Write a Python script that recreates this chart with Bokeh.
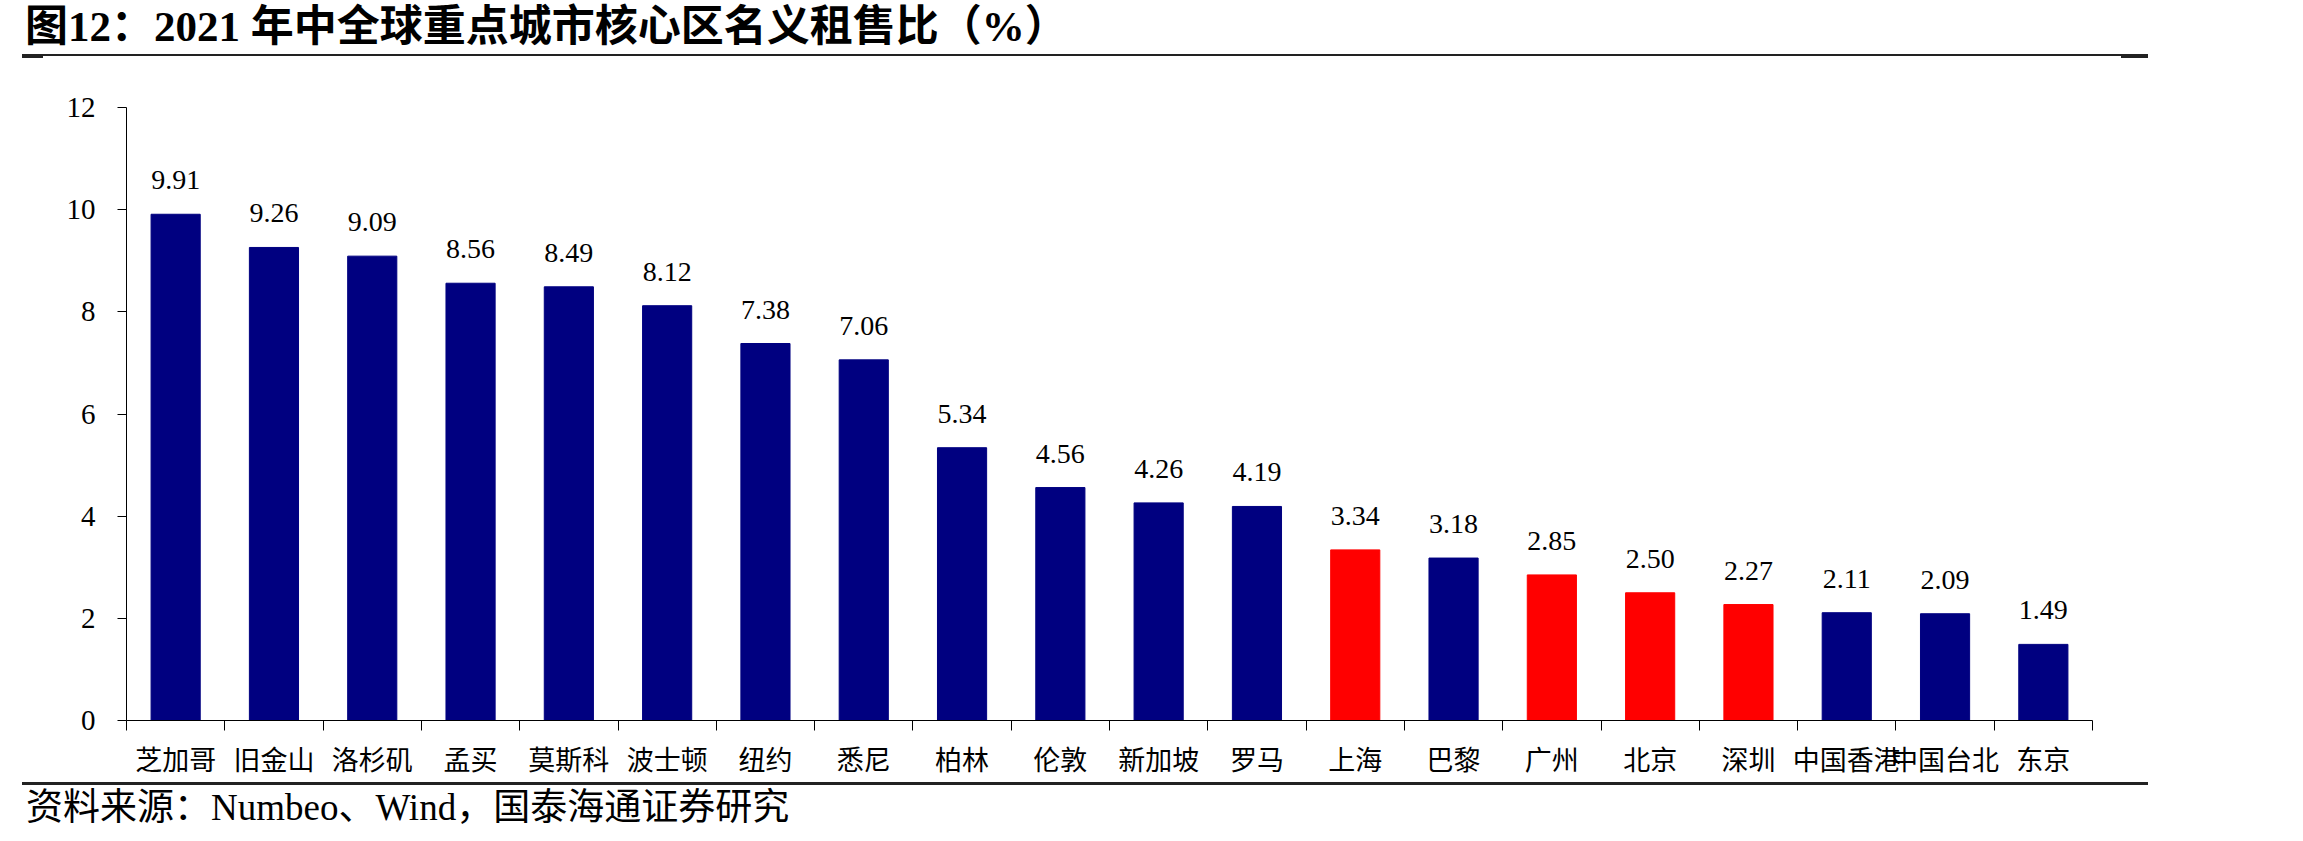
from bokeh.plotting import figure
from bokeh.models import Range1d, FixedTicker, ColumnDataSource, Div
from bokeh.layouts import column
from bokeh.core.properties import value
from bokeh.embed import file_html
from bokeh.resources import INLINE

# Nominal rent-to-price ratio in core districts, mid-2021 (%)
cities = ["芝加哥", "旧金山", "洛杉矶", "孟买", "莫斯科", "波士顿", "纽约", "悉尼",
          "柏林", "伦敦", "新加坡", "罗马", "上海", "巴黎", "广州", "北京", "深圳",
          "中国香港", "中国台北", "东京"]
ratios = [9.91, 9.26, 9.09, 8.56, 8.49, 8.12, 7.38, 7.06, 5.34, 4.56, 4.26, 4.19,
          3.34, 3.18, 2.85, 2.50, 2.27, 2.11, 2.09, 1.49]
highlighted = ["上海", "广州", "北京", "深圳"]
y_ticks = [0, 2, 4, 6, 8, 10, 12]

title_text = "图12：2021 年中全球重点城市核心区名义租售比（%）"
source_text = "资料来源：Numbeo、Wind，国泰海通证券研究"

NAVY = "#000080"
RED = "#FF0000"
SERIF = "'Liberation Serif', 'Times New Roman', 'Noto Sans CJK SC', serif"
CJK = "'Noto Sans CJK SC', sans-serif"
RULE = "#222222"

W = 2303
HEAD_H, FOOT_H = 60, 59
FIG_H = 841 - HEAD_H - FOOT_H

n = len(cities)
centers = [i + 0.5 for i in range(n)]
bounds = [float(i) for i in range(n + 1)]

src = ColumnDataSource(dict(
    x=centers,
    top=ratios,
    color=[RED if c in highlighted else NAVY for c in cities],
    label=[f"{v:.2f}" for v in ratios],
))

p = figure(width=W, height=FIG_H, output_backend="svg", toolbar_location=None,
           x_range=Range1d(0, n), y_range=Range1d(0, 12),
           min_border_left=126, min_border_right=211,
           min_border_top=47, min_border_bottom=62,
           background_fill_color="white", border_fill_color="white", margin=0)
p.outline_line_color = None
p.grid.visible = False

p.vbar(x="x", top="top", width=0.5, bottom=0, color="color", source=src)
p.text(x="x", y="top", text="label", source=src, text_align="center",
       text_baseline="alphabetic", y_offset=-34, text_color="black",
       text_font=value(SERIF), text_font_size="28px")

# y axis
ya = p.yaxis[0]
ya.ticker = FixedTicker(ticks=y_ticks)
ya.axis_line_color = "black"
ya.axis_line_width = 1
ya.major_tick_in = 0
ya.major_tick_out = 9
ya.minor_tick_line_color = None
ya.major_label_standoff = 22
ya.major_label_text_font = SERIF
ya.major_label_text_font_size = "29px"
ya.major_label_text_color = "black"

# x axis: names at bar centres, tick marks at category boundaries
xa = p.xaxis[0]
xa.ticker = FixedTicker(ticks=centers, minor_ticks=bounds)
xa.major_label_overrides = {c: name for c, name in zip(centers, cities)}
xa.axis_line_color = "black"
xa.major_tick_in = 0
xa.major_tick_out = 0
xa.minor_tick_in = 0
xa.minor_tick_out = 10
xa.minor_tick_line_color = "black"
xa.major_label_standoff = 8
xa.major_label_text_font = CJK
xa.major_label_text_font_size = "27px"
xa.major_label_text_color = "black"


def bar(left, top, width, height):
    return (f'<div style="position:absolute;left:{left}px;top:{top}px;'
            f'width:{width}px;height:{height}px;background:{RULE};"></div>')


head = Div(
    text=(f'<div style="position:relative;width:{W}px;height:{HEAD_H}px;">'
          f'<div style="position:absolute;left:25px;top:3px;white-space:nowrap;'
          f'font-family:{SERIF};font-weight:bold;font-size:43px;line-height:48px;'
          f'color:black;">{title_text}</div>'
          + bar(22, 54, 2126, 2) + bar(22, 55, 21, 3) + bar(2121, 55, 27, 3)
          + '</div>'),
    width=W, height=HEAD_H, margin=0)

foot = Div(
    text=(f'<div style="position:relative;width:{W}px;height:{FOOT_H}px;">'
          + bar(22, 0, 2126, 3)
          + f'<div style="position:absolute;left:26px;top:4px;white-space:nowrap;'
          f'font-family:{SERIF};font-size:37px;line-height:44px;'
          f'color:black;">{source_text}</div></div>'),
    width=W, height=FOOT_H, margin=0)

layout = column(head, p, foot, spacing=0, margin=0)

open("out.html", "w").write(file_html(layout, INLINE))
